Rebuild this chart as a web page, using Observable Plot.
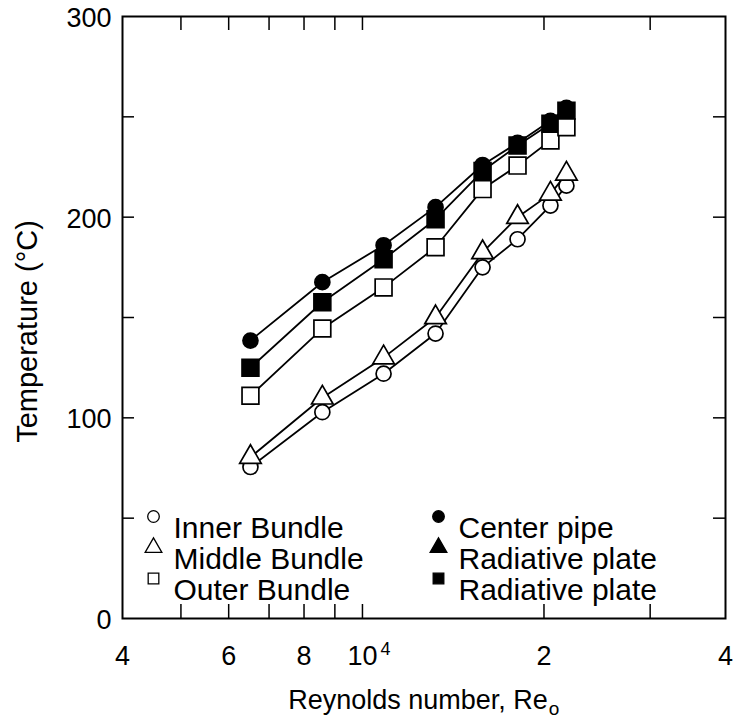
<!DOCTYPE html>
<html>
<head>
<meta charset="utf-8">
<script src="https://cdn.jsdelivr.net/npm/d3@7"></script>
<script src="https://cdn.jsdelivr.net/npm/@observablehq/plot@0.6"></script>
<style>
  html, body { margin: 0; padding: 0; background: #fff; }
  #chart { width: 733px; height: 720px; }
  svg { font-family: "Liberation Sans", Arial, sans-serif; }
</style>
</head>
<body>
<div id="chart"></div>
<script>
// Reynolds numbers of the measurement columns
const reynolds = [6520, 8580, 10840, 13220, 15820, 18080, 20500, 21790];
// Temperatures (°C)
const innerBundle  = [75.5, 102.8, 122, 142, 175, 189, 205.8, 215.7];
const middleBundle = [80.4, 110, 130, 150, 182.4, 200, 211.6, 221.6];
const outerBundle  = [111, 144.5, 165, 185, 214, 225.7, 238.2, 244.8];
const centerPipe   = [138.5, 167.6, 186, 205, 226, 237, 248, 254.5];
const radPlateSq   = [125, 157.6, 179, 199, 223, 235.7, 246.5, 253];

const xTicks = [5000, 6000, 7000, 8000, 9000, 10000, 20000, 30000];
const xTickLabels = [
  {v: 4000, t: "4"}, {v: 6000, t: "6"}, {v: 8000, t: "8"},
  {v: 10000, t: "10"}, {v: 20000, t: "2"}, {v: 40000, t: "4"}
];
const xTickSup = [{v: 10000, t: "4"}];
const yTicks = [50, 100, 150, 200, 250];
const yTickLabels = [0, 100, 200, 300];

const legendItems = [
  {label: "Inner Bundle",    symbol: "circle",   fill: "white", col: 0, row: 0},
  {label: "Middle Bundle",   symbol: "triangle", fill: "white", col: 0, row: 1},
  {label: "Outer Bundle",    symbol: "square",   fill: "white", col: 0, row: 2},
  {label: "Center pipe",     symbol: "circle",   fill: "black", col: 1, row: 0},
  {label: "Radiative plate", symbol: "triangle", fill: "black", col: 1, row: 1},
  {label: "Radiative plate", symbol: "square",   fill: "black", col: 1, row: 2}
];

const mk = (ys) => reynolds.map((x, i) => ({x, y: ys[i]}));
const series = [
  {data: mk(centerPipe),   symbol: "circle",   fill: "black", r: 7.5},
  {data: mk(radPlateSq),   symbol: "square",   fill: "black", r: 9.5},
  {data: mk(outerBundle),  symbol: "square",   fill: "white", r: 9.5},
  {data: mk(innerBundle),  symbol: "circle",   fill: "white", r: 7.5},
  {data: mk(middleBundle), symbol: "triangle", fill: "white", r: 8}
];

const W = 733, H = 720;
const mL = 122, mR = 8, mT = 16, mB = 102;
const pw = W - mL - mR, ph = H - mT - mB;
const tickLen = 14;

const legendMarks = legendItems.flatMap(d => {
  const mx = d.col === 0 ? 31 : 316;
  const tx = d.col === 0 ? 51 : 336;
  const dy0 = 500 + d.row * 31;
  return [
    Plot.dot([d], {frameAnchor: "top-left", dx: mx, dy: dy0, symbol: d.symbol,
      r: d.symbol === "square" ? 6 : (d.symbol === "triangle" ? 6.2 : 5.8),
      fill: d.fill, stroke: "black", strokeWidth: 1.3}),
    Plot.text([d], {frameAnchor: "top-left", dx: tx, dy: dy0, text: "label",
      textAnchor: "start", fontSize: 30, fill: "black"})
  ];
});

const plot = Plot.plot({
  width: W, height: H,
  marginLeft: mL, marginRight: mR, marginTop: mT, marginBottom: mB,
  style: {fontFamily: "'Liberation Sans', Arial, sans-serif", background: "white", color: "black"},
  x: {type: "log", domain: [4000, 40000], axis: null},
  y: {domain: [0, 300], axis: null},
  marks: [
    // tick marks (inward)
    Plot.tickX(xTicks, {x: d => d, insetTop: ph - tickLen, stroke: "black", strokeWidth: 1.5}),
    Plot.tickX(xTicks, {x: d => d, insetBottom: ph - tickLen, stroke: "black", strokeWidth: 1.5}),
    Plot.tickY(yTicks, {y: d => d, insetRight: pw - 12, stroke: "black", strokeWidth: 1.5}),
    Plot.tickY(yTicks, {y: d => d, insetLeft: pw - 12, stroke: "black", strokeWidth: 1.5}),
    // tick labels
    Plot.text(xTickLabels, {x: "v", frameAnchor: "bottom", dy: 46, text: "t", fontSize: 27, fill: "black"}),
    Plot.text(xTickSup, {x: "v", frameAnchor: "bottom", dy: 36, dx: 23, text: "t", fontSize: 18, fill: "black"}),
    Plot.text(yTickLabels, {y: d => d, frameAnchor: "left", dx: -11, dy: 2, text: d => String(d), textAnchor: "end", fontSize: 27, fill: "black"}),
    // axis titles
    Plot.text(["Reynolds number, Re"], {frameAnchor: "bottom", dy: 90, dx: -6, text: d => d, fontSize: 27, fill: "black"}),
    Plot.text(["o"], {frameAnchor: "bottom", dy: 96, dx: 130, text: d => d, fontSize: 19, fill: "black"}),
    Plot.text(["Temperature (°C)"], {frameAnchor: "left", dx: -95, dy: 14, rotate: -90, textAnchor: "middle", text: d => d, fontSize: 29, fill: "black"}),
    // series lines
    ...series.map(s => Plot.line(s.data, {x: "x", y: "y", stroke: "black", strokeWidth: 1.8})),
    // series markers
    ...series.map(s => Plot.dot(s.data, {x: "x", y: "y", symbol: s.symbol, r: s.r, fill: s.fill, stroke: "black", strokeWidth: 1.7})),
    // legend
    ...legendMarks,
    Plot.frame({stroke: "black", strokeWidth: 2})
  ]
});
document.getElementById("chart").appendChild(plot);
</script>
</body>
</html>
